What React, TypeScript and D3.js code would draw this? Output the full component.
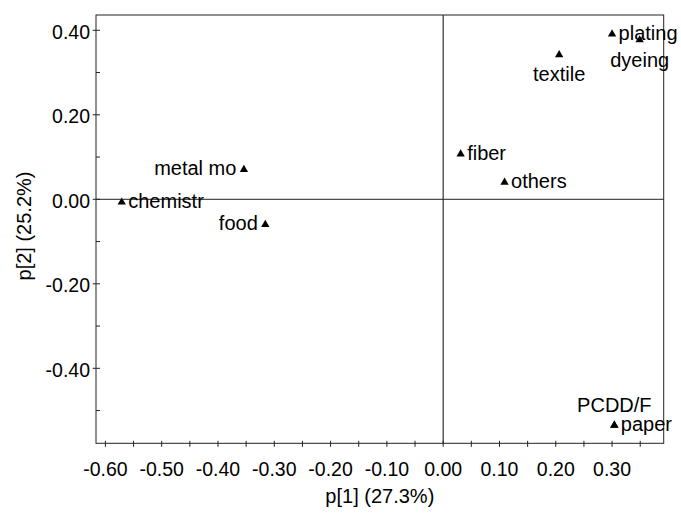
import React, { useEffect, useRef } from "react";
import * as d3 from "d3";

// loadings
const names = ["plating", "dyeing", "textile", "fiber", "others", "metal mo", "chemistr", "food", "paper", "PCDD/F"];
const p1 = [0.300, 0.349, 0.206, 0.031, 0.109, -0.354, -0.571, -0.316, 0.304, 0.304];
const p2 = [0.393, 0.379, 0.344, 0.109, 0.042, 0.072, -0.005, -0.058, -0.533, -0.533];
const labelPos = ["right", "below", "below", "right", "right", "left", "right", "left", "right", "above"];

const xTicks = [-0.6, -0.5, -0.4, -0.3, -0.2, -0.1, 0, 0.1, 0.2, 0.3];
const xMinor = [-0.55, -0.45, -0.35, -0.25, -0.15, -0.05, 0.05, 0.15, 0.25, 0.35];
const yTicks = [-0.4, -0.2, 0, 0.2, 0.4];
const yMinor = [-0.5, -0.3, -0.1, 0.1, 0.3];

const xTitle = "p[1] (27.3%)";
const yTitle = "p[2] (25.2%)";

const App = () => {
  const svgRef = useRef<SVGSVGElement>(null);

  useEffect(() => {
    const width = 681;
    const height = 517;
    const left = 96, right = 663.7, top = 15, bottom = 443.3;
    const font = "'Liberation Sans', Arial, sans-serif";
    const fs = 19.5;
    const lfs = 20;

    const svg = d3.select(svgRef.current)
      .attr("width", width)
      .attr("height", height)
      .style("background", "#fff");
    svg.selectAll("*").remove();

    const x = d3.scaleLinear().domain([-0.6167, 0.3917]).range([left, right]);
    const y = d3.scaleLinear().domain([-0.5775, 0.4362]).range([bottom, top]);
    const fmt = (d: number) => d3.format(".2f")(d).replace("\u2212", "-");

    // frame
    svg.append("rect")
      .attr("x", left).attr("y", top)
      .attr("width", right - left).attr("height", bottom - top)
      .attr("fill", "none").attr("stroke", "#222").attr("stroke-width", 1);

    // zero lines
    svg.append("line")
      .attr("x1", x(0)).attr("x2", x(0)).attr("y1", top).attr("y2", bottom)
      .attr("stroke", "#333").attr("stroke-width", 1.2);
    svg.append("line")
      .attr("x1", left).attr("x2", right).attr("y1", y(0)).attr("y2", y(0))
      .attr("stroke", "#222").attr("stroke-width", 1);

    // x ticks
    svg.selectAll(".xt")
      .data(xTicks.concat(xMinor))
      .join("line")
      .attr("x1", (d) => x(d)).attr("x2", (d) => x(d))
      .attr("y1", bottom - 2.5).attr("y2", bottom + 3.5)
      .attr("stroke", "#222");
    svg.selectAll(".xl")
      .data(xTicks)
      .join("text")
      .attr("x", (d) => x(d)).attr("y", 476)
      .attr("text-anchor", "middle")
      .style("font-family", font).style("font-size", fs + "px")
      .text((d) => fmt(d));

    // y ticks
    svg.selectAll(".yt")
      .data(yTicks)
      .join("line")
      .attr("x1", left - 3.3).attr("x2", left + 4)
      .attr("y1", (d) => y(d)).attr("y2", (d) => y(d))
      .attr("stroke", "#222");
    svg.selectAll(".ym")
      .data(yMinor)
      .join("line")
      .attr("x1", left).attr("x2", left + 4)
      .attr("y1", (d) => y(d)).attr("y2", (d) => y(d))
      .attr("stroke", "#222");
    svg.selectAll(".yl")
      .data(yTicks)
      .join("text")
      .attr("x", 90).attr("y", (d) => y(d) + 8.5)
      .attr("text-anchor", "end")
      .style("font-family", font).style("font-size", fs + "px")
      .text((d) => fmt(d));

    // titles
    svg.append("text")
      .attr("x", (left + right) / 2).attr("y", 503)
      .attr("text-anchor", "middle")
      .style("font-family", font).style("font-size", lfs + "px")
      .text(xTitle);
    svg.append("text")
      .attr("transform", `translate(31,226) rotate(-90)`)
      .attr("text-anchor", "middle")
      .style("font-family", font).style("font-size", lfs + "px")
      .text(yTitle);

    // points
    const pts = names.map((n, i) => ({ n, x: p1[i], y: p2[i], pos: labelPos[i] }));
    const tri = d3.symbol().type(d3.symbolTriangle).size(30);

    svg.selectAll(".pt")
      .data(pts)
      .join("path")
      .attr("d", tri)
      .attr("transform", (d) => `translate(${x(d.x)},${y(d.y) + 0.8})`)
      .attr("fill", "#000");

    svg.selectAll(".lab")
      .data(pts)
      .join("text")
      .attr("x", (d) => d.pos === "right" ? x(d.x) + 6.5 : d.pos === "left" ? x(d.x) - 7.5 : x(d.x))
      .attr("y", (d) => d.pos === "below" ? y(d.y) + 27.5 : d.pos === "above" ? y(d.y) - 12.6 : y(d.y) + 6.5)
      .attr("text-anchor", (d) => d.pos === "right" ? "start" : d.pos === "left" ? "end" : "middle")
      .style("font-family", font).style("font-size", lfs + "px")
      .text((d) => d.n);
  }, []);

  return (
    <svg ref={svgRef} style={{ position: "absolute", left: 0, top: 0 }} />
  );
};

export default App;
